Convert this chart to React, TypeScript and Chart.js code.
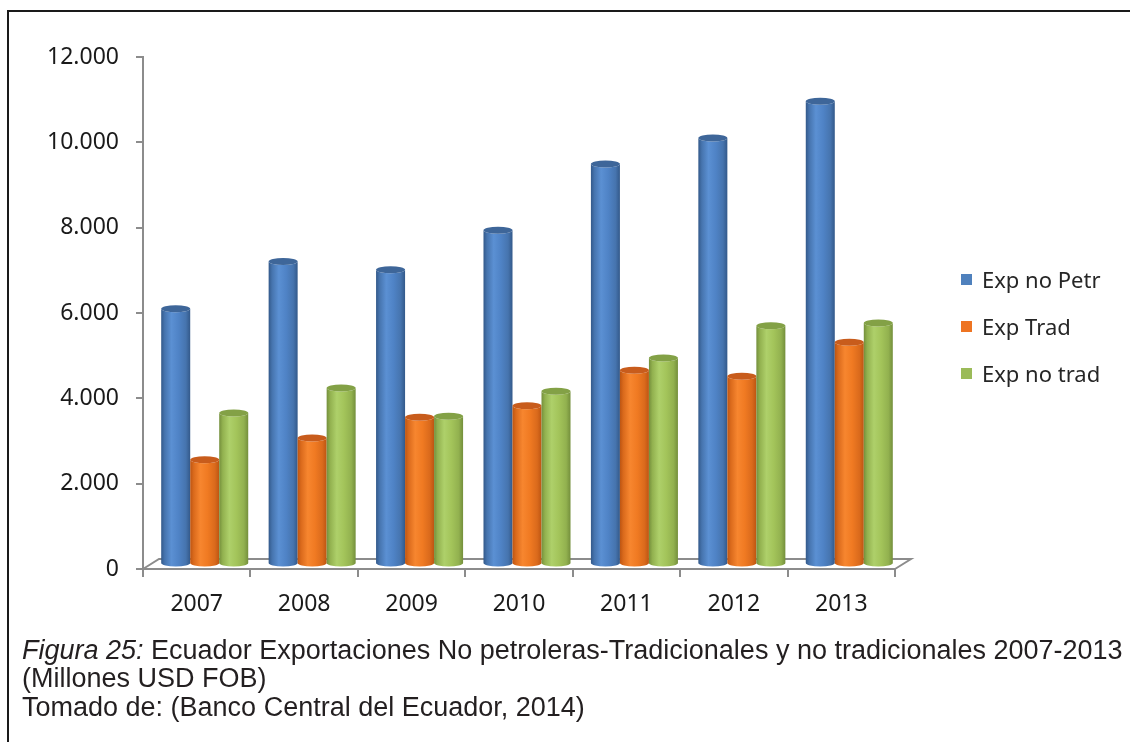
import React, { useEffect, useRef } from 'react';
import { Chart, registerables } from 'chart.js';

Chart.register(...registerables);

// ---- Data (millones USD FOB) ----
const CATEGORIES = ['2007', '2008', '2009', '2010', '2011', '2012', '2013'];
const EXP_NO_PETR = [5984, 7090, 6898, 7821, 9375, 9984, 10845];
const EXP_TRAD = [2445, 2953, 3438, 3711, 4539, 4399, 5196];
const EXP_NO_TRAD = [3539, 4125, 3461, 4047, 4828, 5586, 5648];
const SERIES_NAMES = ['Exp no Petr', 'Exp Trad', 'Exp no trad'];
const Y_MIN = 0;
const Y_MAX = 12000;
const Y_STEP = 2000;

const SERIES_COLORS = ['#4F81BD', '#EE7422', '#9BBB59'];
const SHADES = [
  { dark: '#33598A', light: '#5B90D3', mid: '#4F83C6', mid2: '#4674AE', top: '#3E6699' },
  { dark: '#BD5512', light: '#F7862F', mid: '#F07A22', mid2: '#DA6A1C', top: '#C85C1C' },
  { dark: '#748F3C', light: '#AED06A', mid: '#A3C45A', mid2: '#92B14F', top: '#83A146' },
];

const DX = 16;
const DY = 10;

function fmt(v: number): string {
  return String(Math.round(v)).replace(/\B(?=(\d{3})+(?!\d))/g, '.');
}

function drawCylinder(ctx: CanvasRenderingContext2D, cx: number, top: number, bot: number, rx: number, s: any) {
  const ry = 3.5;
  const g = ctx.createLinearGradient(cx - rx, 0, cx + rx, 0);
  g.addColorStop(0, s.dark);
  g.addColorStop(0.12, s.mid2);
  g.addColorStop(0.35, s.light);
  g.addColorStop(0.6, s.mid);
  g.addColorStop(0.85, s.mid2);
  g.addColorStop(1, s.dark);
  ctx.fillStyle = g;
  ctx.beginPath();
  ctx.moveTo(cx - rx, top);
  ctx.lineTo(cx - rx, bot);
  ctx.ellipse(cx, bot, rx, ry, 0, Math.PI, 0, true);
  ctx.lineTo(cx + rx, top);
  ctx.ellipse(cx, top, rx, ry, 0, 0, Math.PI, false);
  ctx.closePath();
  ctx.fill();
  ctx.fillStyle = s.top;
  ctx.beginPath();
  ctx.ellipse(cx, top, rx, ry, 0, 0, Math.PI * 2);
  ctx.fill();
}

const cylinderPlugin = {
  id: 'cylinder3d',
  beforeDatasetsDraw(chart: any) {
    const { ctx, chartArea } = chart;
    ctx.save();
    ctx.strokeStyle = '#8C8C8C';
    ctx.lineWidth = 2;
    ctx.beginPath();
    ctx.moveTo(chartArea.left, chartArea.bottom);
    ctx.lineTo(chartArea.left + DX, chartArea.bottom - DY);
    ctx.lineTo(chartArea.right + DX, chartArea.bottom - DY);
    ctx.lineTo(chartArea.right, chartArea.bottom);
    ctx.stroke();
    const n = chart.data.labels.length;
    for (let i = 0; i < n; i++) {
      chart.data.datasets.forEach((_ds: any, di: number) => {
        const meta = chart.getDatasetMeta(di);
        const el = meta.data[i];
        if (!el) return;
        const p = el.getProps(['x', 'y', 'base', 'width'], true);
        drawCylinder(ctx, p.x + DX / 2, p.y - DY / 2, p.base - DY / 2, p.width / 2, SHADES[di]);
      });
    }
    ctx.restore();
    return false;
  },
};

const TICK_FONT = { family: '"Noto Sans", sans-serif', size: 23 };

export default function App() {
  const canvasRef = useRef<HTMLCanvasElement | null>(null);

  useEffect(() => {
    const canvas = canvasRef.current;
    if (!canvas) return;
    const chart = new Chart(canvas, {
      type: 'bar',
      data: {
        labels: CATEGORIES,
        datasets: [
          { label: SERIES_NAMES[0], data: EXP_NO_PETR, backgroundColor: SERIES_COLORS[0] },
          { label: SERIES_NAMES[1], data: EXP_TRAD, backgroundColor: SERIES_COLORS[1] },
          { label: SERIES_NAMES[2], data: EXP_NO_TRAD, backgroundColor: SERIES_COLORS[2] },
        ],
      },
      options: {
        animation: false,
        responsive: false,
        maintainAspectRatio: false,
        datasets: { bar: { categoryPercentage: 0.81, barPercentage: 1.0 } },
        layout: { padding: { left: 0, top: 57, right: 235, bottom: 0 } },
        plugins: {
          legend: { display: false },
          tooltip: { enabled: false },
        },
        scales: {
          x: {
            afterFit: (s: any) => { s.height = 71; },
            grid: { display: true, drawOnChartArea: false, drawTicks: true, tickLength: 8, color: '#8C8C8C', lineWidth: 2, offset: true },
            border: { display: true, color: '#8C8C8C', width: 2 },
            ticks: { color: '#1A1A1A', font: TICK_FONT, padding: 14 },
          },
          y: {
            min: Y_MIN,
            max: Y_MAX,
            afterFit: (s: any) => { s.width = 143; },
            grid: { display: true, drawOnChartArea: false, drawTicks: true, tickLength: 7, color: '#8C8C8C', lineWidth: 2 },
            border: { display: true, color: '#8C8C8C', width: 2 },
            ticks: { stepSize: Y_STEP, color: '#1A1A1A', font: TICK_FONT, padding: 17, callback: (v: any) => fmt(Number(v)) },
          },
        },
      },
      plugins: [cylinderPlugin],
    } as any);
    return () => chart.destroy();
  }, []);

  const legendTops = [279, 326, 373];

  return (
    <div style={{ position: 'absolute', left: 0, top: 0, width: 1130, height: 742, overflow: 'hidden', background: '#fff' }}>
      <div style={{ position: 'absolute', left: 7, top: 10, width: 1200, height: 800, border: '2px solid #1a1a1a', boxSizing: 'border-box' }} />
      <canvas ref={canvasRef} width={1130} height={640} style={{ position: 'absolute', left: 0, top: 0, width: 1130, height: 640 }} />
      {SERIES_NAMES.map((name, i) => (
        <div key={name} style={{ position: 'absolute', left: 961, top: legendTops[i] - 15, height: 30, display: 'flex', alignItems: 'center', fontFamily: '"Noto Sans", sans-serif', fontSize: 22, color: '#262626', whiteSpace: 'nowrap' }}>
          <span style={{ display: 'inline-block', width: 11, height: 11, background: SERIES_COLORS[i], marginRight: 10 }} />
          <span>{name}</span>
        </div>
      ))}
      <div style={{ position: 'absolute', left: 22, top: 636, fontFamily: '"Liberation Sans", Arial, sans-serif', fontSize: 27, lineHeight: '28.3px', color: '#231F20', whiteSpace: 'nowrap' }}>
        <i>Figura 25:</i> Ecuador Exportaciones No petroleras-Tradicionales y no tradicionales 2007-2013<br />
        (Millones USD FOB)<br />
        Tomado de: (Banco Central del Ecuador, 2014)
      </div>
    </div>
  );
}
